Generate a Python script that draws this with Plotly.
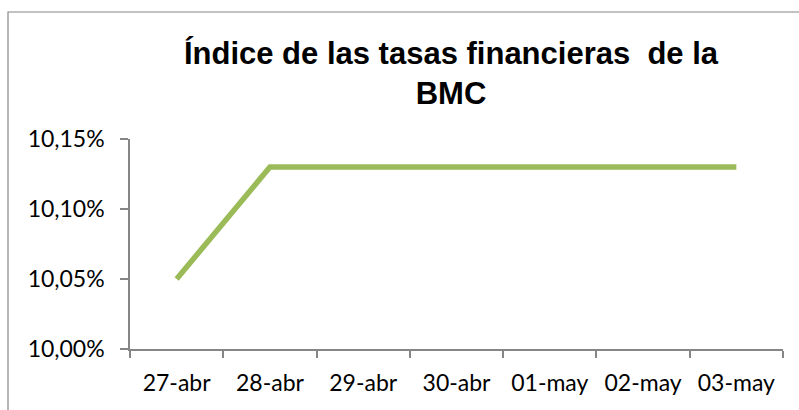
import plotly.graph_objects as go

categories = ["27-abr", "28-abr", "29-abr", "30-abr", "01-may", "02-may", "03-may"]
values = [10.05, 10.13, 10.13, 10.13, 10.13, 10.13, 10.13]
y_ticks = [10.00, 10.05, 10.10, 10.15]
y_tick_labels = ["10,00%", "10,05%", "10,10%", "10,15%"]
title_text = "Índice de las tasas financieras&nbsp; de la<br>BMC"

W, H = 799, 410
L, R, T, B = 130, 16, 139, 61
pw, ph = W - L - R, H - T - B

axis_col = "#868686"
fig = go.Figure()
fig.add_trace(go.Scatter(
    x=categories, y=values, mode="lines",
    line=dict(color="#9BBB59", width=5.5),
    hoverinfo="skip", showlegend=False,
))

def px_x(px):
    return (px - L) / pw

def px_y(py):
    return (H - B - py) / ph

fig.add_shape(type="rect", xref="paper", yref="paper",
              x0=px_x(8), x1=px_x(W + 20), y0=px_y(H + 20), y1=px_y(12),
              line=dict(color=axis_col, width=1.2), fillcolor="rgba(0,0,0,0)", layer="below")

fig.update_layout(
    width=W, height=H,
    margin=dict(l=L, r=R, t=T, b=B),
    paper_bgcolor="white", plot_bgcolor="white",
    title=dict(text=title_text, x=451 / W, xanchor="center", xref="container",
               y=1 - 64 / H, yanchor="top", yref="container",
               font=dict(family="Liberation Sans, Arial", size=31, color="black", weight="bold")),
    font=dict(family="Lato", size=23, color="black"),
    xaxis=dict(
        type="category", range=[-0.5, 6.5], showgrid=False, zeroline=False,
        showline=True, linecolor=axis_col, linewidth=1.5,
        ticks="outside", tickson="boundaries", ticklen=7, tickcolor=axis_col, tickwidth=1.5,
        ticklabelstandoff=13,
        tickfont=dict(family="Lato", size=23, color="black"),
    ),
    yaxis=dict(
        range=[10.00, 10.15], tickvals=y_ticks, ticktext=y_tick_labels,
        showgrid=False, zeroline=False,
        showline=True, linecolor=axis_col, linewidth=1.5,
        ticks="outside", ticklen=8, tickcolor=axis_col, tickwidth=1.5,
        ticklabelstandoff=11,
        tickfont=dict(family="Lato", size=23, color="black"),
    ),
)

fig.write_html("out.html")
